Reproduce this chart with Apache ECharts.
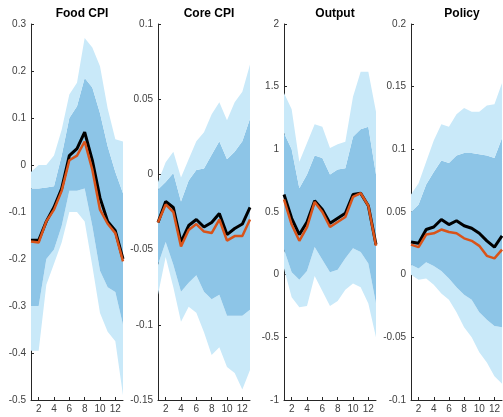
<!DOCTYPE html>
<html>
<head>
<meta charset="utf-8">
<script src="https://cdn.jsdelivr.net/npm/echarts@6/dist/echarts.min.js"></script>
<style>html,body{margin:0;padding:0;background:#fff}#c{width:503px;height:417px}</style>
</head>
<body>
<div id="c"></div>
<script>
var horizons = ['1', '2', '3', '4', '5', '6', '7', '8', '9', '10', '11', '12', '13'];
var titles = ['Food CPI', 'Core CPI', 'Output', 'Policy'];

var foodMedian = [-0.16, -0.16, -0.12, -0.09, -0.05, 0.02, 0.035, 0.07, 0.01, -0.07, -0.12, -0.14, -0.2];
var foodAlt = [-0.163, -0.165, -0.12, -0.095, -0.055, 0.01, 0.02, 0.05, -0.01, -0.095, -0.125, -0.145, -0.205];
var foodOuterHi = [-0.015, 0.0, 0.0, 0.02, 0.075, 0.15, 0.175, 0.27, 0.25, 0.21, 0.12, 0.055, 0.05];
var foodInnerHi = [-0.05, -0.05, -0.048, -0.045, 0.02, 0.1, 0.125, 0.185, 0.165, 0.11, 0.04, -0.015, -0.06];
var foodInnerLo = [-0.3, -0.3, -0.2, -0.18, -0.13, -0.055, -0.055, -0.05, -0.13, -0.225, -0.26, -0.27, -0.34];
var foodOuterLo = [-0.395, -0.395, -0.255, -0.21, -0.165, -0.1, -0.1, -0.12, -0.215, -0.315, -0.355, -0.375, -0.49];

var coreMedian = [-0.032, -0.018, -0.022, -0.045, -0.034, -0.03, -0.035, -0.032, -0.026, -0.04, -0.036, -0.033, -0.022];
var coreAlt = [-0.032, -0.02, -0.025, -0.048, -0.037, -0.033, -0.038, -0.039, -0.03, -0.044, -0.041, -0.041, -0.03];
var coreOuterHi = [-0.005, 0.008, 0.015, -0.002, 0.01, 0.022, 0.028, 0.04, 0.048, 0.036, 0.048, 0.055, 0.073];
var coreInnerHi = [-0.01, -0.005, 0.001, -0.018, -0.004, 0.003, 0.004, 0.013, 0.022, 0.01, 0.015, 0.022, 0.037];
var coreInnerLo = [-0.06, -0.045, -0.06, -0.078, -0.072, -0.067, -0.078, -0.083, -0.08, -0.094, -0.094, -0.094, -0.09];
var coreOuterLo = [-0.08, -0.055, -0.075, -0.098, -0.088, -0.092, -0.105, -0.12, -0.115, -0.128, -0.132, -0.143, -0.13];

var outMedian = [0.64, 0.45, 0.32, 0.42, 0.59, 0.52, 0.41, 0.45, 0.49, 0.64, 0.65, 0.55, 0.24];
var outAlt = [0.6, 0.4, 0.27, 0.38, 0.58, 0.5, 0.38, 0.42, 0.46, 0.62, 0.65, 0.55, 0.23];
var outOuterHi = [1.45, 1.32, 0.9, 1.05, 1.2, 1.18, 1.01, 1.04, 1.06, 1.42, 1.62, 1.62, 1.3];
var outInnerHi = [1.13, 1.0, 0.69, 0.8, 0.95, 0.93, 0.8, 0.84, 0.85, 1.1, 1.16, 1.18, 0.8];
var outInnerLo = [0.2, 0.02, -0.04, 0.03, 0.22, 0.12, 0.02, 0.04, 0.13, 0.21, 0.18, 0.09, -0.23];
var outOuterLo = [0.05, -0.18, -0.26, -0.25, -0.01, -0.13, -0.25, -0.21, -0.12, -0.07, -0.1, -0.23, -0.5];

var polMedian = [0.026, 0.025, 0.036, 0.038, 0.044, 0.04, 0.043, 0.039, 0.037, 0.033, 0.027, 0.022, 0.031];
var polAlt = [0.024, 0.022, 0.032, 0.033, 0.036, 0.034, 0.033, 0.029, 0.027, 0.023, 0.015, 0.013, 0.02];
var polOuterHi = [0.064, 0.073, 0.09, 0.107, 0.12, 0.118, 0.128, 0.133, 0.13, 0.13, 0.135, 0.136, 0.153];
var polInnerHi = [0.05, 0.056, 0.072, 0.082, 0.091, 0.089, 0.095, 0.097, 0.097, 0.096, 0.095, 0.093, 0.109];
var polInnerLo = [0.008, 0.005, 0.01, 0.007, 0.003, -0.003, -0.01, -0.016, -0.02, -0.03, -0.036, -0.041, -0.042];
var polOuterLo = [0.0, -0.004, -0.003, -0.008, -0.015, -0.02, -0.03, -0.042, -0.05, -0.062, -0.07, -0.081, -0.087];

var yRanges = [[-0.5, 0.3, 0.1], [-0.15, 0.1, 0.05], [-1, 2, 0.5], [-0.1, 0.2, 0.05]];

var panels = [
  [foodMedian, foodAlt, foodOuterHi, foodInnerHi, foodInnerLo, foodOuterLo],
  [coreMedian, coreAlt, coreOuterHi, coreInnerHi, coreInnerLo, coreOuterLo],
  [outMedian, outAlt, outOuterHi, outInnerHi, outInnerLo, outOuterLo],
  [polMedian, polAlt, polOuterHi, polInnerHi, polInnerLo, polOuterLo]
];
var lefts = [31, 158, 284, 411];
var W = 92;

var LIGHT = '#c9e9f9';
var DARK = '#8dc5e7';
var FONT = 'Arial, Liberation Sans, sans-serif';

function diff(a, b) {
  return a.map(function (v, i) { return +(v - b[i]).toFixed(6); });
}
function evenOnly(i, v) {
  return Number(v) % 2 === 0;
}

var grid = [], xAxis = [], yAxis = [], series = [], title = [];
panels.forEach(function (p, k) {
  grid.push({ left: lefts[k], width: W, top: 24, bottom: 17 });
  title.push({
    text: titles[k], left: lefts[k] + W / 2, top: 3, textAlign: 'center',
    textStyle: { fontSize: 12, fontWeight: 'bold', color: '#000', fontFamily: FONT }
  });
  xAxis.push({
    type: 'category', gridIndex: k, data: horizons, boundaryGap: false,
    axisLine: { show: true, onZero: false, lineStyle: { color: '#262626', width: 1 } },
    axisTick: { show: true, inside: true, length: 3, interval: evenOnly, lineStyle: { color: '#262626' } },
    splitLine: { show: false },
    axisLabel: { interval: evenOnly, color: '#404040', fontSize: 10, fontFamily: FONT, margin: 4 }
  });
  yAxis.push({
    type: 'value', gridIndex: k, min: yRanges[k][0], max: yRanges[k][1], interval: yRanges[k][2],
    axisLine: { show: true, onZero: false, lineStyle: { color: '#262626', width: 1 } },
    axisTick: { show: true, inside: true, length: 3, lineStyle: { color: '#262626' } },
    splitLine: { show: false },
    axisLabel: { color: '#404040', fontSize: 10, fontFamily: FONT, margin: 5 }
  });
  var stack = 'band' + k;
  var band = function (data, color) {
    var s = {
      type: 'line', xAxisIndex: k, yAxisIndex: k, stack: stack, stackStrategy: 'all',
      data: data, symbol: 'none', lineStyle: { width: 0 }, silent: true
    };
    if (color) s.areaStyle = { color: color, opacity: 1 };
    return s;
  };
  series.push(band(p[5], null));
  series.push(band(diff(p[4], p[5]), LIGHT));
  series.push(band(diff(p[3], p[4]), DARK));
  series.push(band(diff(p[2], p[3]), LIGHT));
  series.push({ type: 'line', xAxisIndex: k, yAxisIndex: k, data: p[0], symbol: 'none', lineStyle: { color: '#000', width: 3 }, z: 5 });
  series.push({ type: 'line', xAxisIndex: k, yAxisIndex: k, data: p[1], symbol: 'none', lineStyle: { color: '#d95319', width: 2.5 }, z: 6 });
});

var chart = echarts.init(document.getElementById('c'));
chart.setOption({ animation: false, title: title, grid: grid, xAxis: xAxis, yAxis: yAxis, series: series });
</script>
</body>
</html>
